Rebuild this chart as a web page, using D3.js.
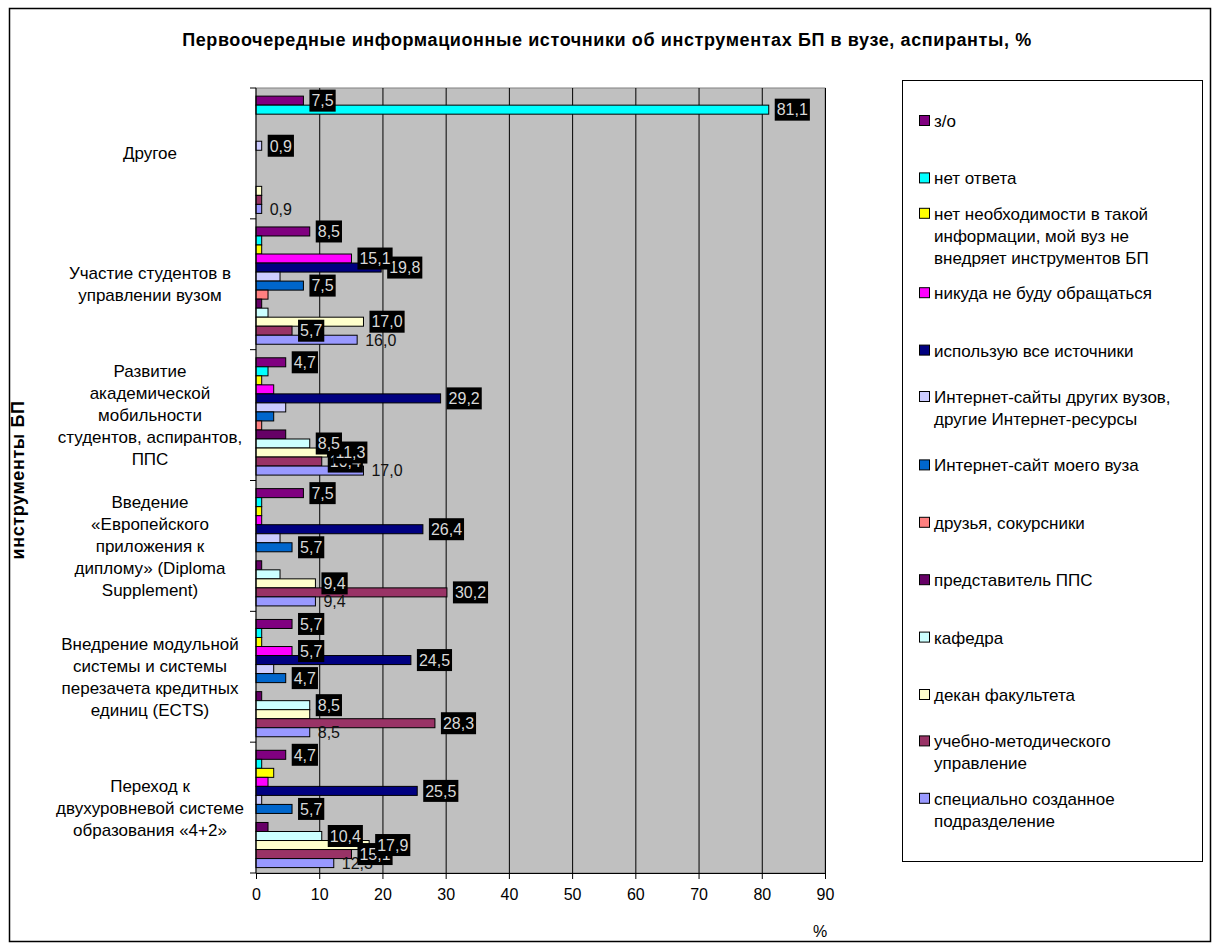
<!DOCTYPE html>
<html><head><meta charset="utf-8">
<script src="https://cdn.jsdelivr.net/npm/d3@7"></script>
<style>
body{margin:0;background:#fff}
svg{display:block}
text{font-family:"Liberation Sans",Arial,sans-serif}
</style>
</head><body>
<svg id="c" width="1219" height="948"></svg>
<script>
// ---------- DATA ----------
const title = "Первоочередные информационные источники об инструментах БП в вузе, аспиранты, %";
const yTitle = "инструменты БП";
const xTitle = "%";
const categories = [
  "Другое",
  "Участие студентов в\nуправлении вузом",
  "Развитие\nакадемической\nмобильности\nстудентов, аспирантов,\nППС",
  "Введение\n«Европейского\nприложения к\nдиплому» (Diploma\nSupplement)",
  "Внедрение модульной\nсистемы и системы\nперезачета кредитных\nединиц (ECTS)",
  "Переход к\nдвухуровневой системе\nобразования «4+2»"
];
const seriesNames = [
  "з/о",
  "нет ответа",
  "нет необходимости в такой\nинформации, мой вуз не\nвнедряет инструментов БП",
  "никуда не буду обращаться",
  "использую все источники",
  "Интернет-сайты других вузов,\nдругие Интернет-ресурсы",
  "Интернет-сайт моего вуза",
  "друзья, сокурсники",
  "представитель ППС",
  "кафедра",
  "декан факультета",
  "учебно-методического\nуправление",
  "специально созданное\nподразделение"
];
const seriesColors = ["#800080","#00FFFF","#FFFF00","#FF00FF","#000080","#CCCCFF","#0066CC","#FF8080","#660066","#CCFFFF","#FFFFCC","#993366","#9999FF"];
// values per series, in category order (top to bottom)
const zo            = [7.5, 8.5, 4.7, 7.5, 5.7, 4.7];
const noAnswer      = [81.1, 0.9, 1.9, 0.9, 0.9, 0.9];
const noNeed        = [0, 0.9, 0.9, 0.9, 0.9, 2.8];
const nowhere       = [0, 15.1, 2.8, 0.9, 5.7, 1.9];
const allSources    = [0, 19.8, 29.2, 26.4, 24.5, 25.5];
const otherSites    = [0.9, 3.8, 4.7, 3.8, 2.8, 0.9];
const mySite        = [0, 7.5, 2.8, 5.7, 4.7, 5.7];
const friends       = [0, 1.9, 0.9, 0, 0, 0];
const teacher       = [0, 0.9, 4.7, 0.9, 0.9, 1.9];
const department    = [0, 1.9, 8.5, 3.8, 8.5, 10.4];
const dean          = [0.9, 17.0, 11.3, 9.4, 8.5, 17.9];
const methodOffice  = [0.9, 5.7, 10.4, 30.2, 28.3, 15.1];
const specialUnit   = [0.9, 16.0, 17.0, 9.4, 8.5, 12.3];
const seriesValues = [zo, noAnswer, noNeed, nowhere, allSources, otherSites, mySite, friends, teacher, department, dean, methodOffice, specialUnit];
// which categories carry a value label, per series
const labelled = [[0,1,2,3,4,5],[0],[],[1,4],[1,2,3,4,5],[0],[1,3,4,5],[],[],[2,4,5],[1,2,3,5],[1,2,3,4,5],[0,1,2,3,4,5]];
const plainLabelSeries = [12]; // labels without black box
const xTicks = [0,10,20,30,40,50,60,70,80,90];

// ---------- DRAW ----------
const svg = d3.select("#c");
const FONT = 16, FONT_TXT = 17;
const fmt = v => d3.format(".1f")(v).replace(".", ",");

// outer border
svg.append("rect").attr("x",9.5).attr("y",8.5).attr("width",1201).attr("height",933)
  .attr("fill","#fff").attr("stroke","#000").attr("stroke-width",1.5);

svg.append("text").attr("x",607).attr("y",46).attr("text-anchor","middle")
  .attr("font-weight","bold").attr("font-size",18).attr("letter-spacing","0.6px").text(title);

const x = d3.scaleLinear().domain([0,90]).range([256,825]);
const y = d3.scaleBand().domain(d3.range(categories.length)).range([88,873]).padding(0);
const ys = d3.scaleBand().domain(d3.range(seriesNames.length)).range([0,y.bandwidth()])
  .paddingInner(0).paddingOuter(0.75).align(0.6);

// plot background
svg.append("rect").attr("x",x(0)).attr("y",88).attr("width",x(90)-x(0)).attr("height",873-88)
  .attr("fill","#C0C0C0").attr("stroke","#808080");

// gridlines
svg.append("g").selectAll("line").data(xTicks.slice(1)).join("line")
  .attr("x1",d=>x(d)+0.5).attr("x2",d=>x(d)+0.5).attr("y1",88).attr("y2",873)
  .attr("stroke","#000").attr("stroke-width",1);

// bars
const flat = [];
seriesValues.forEach((arr,s)=>arr.forEach((v,c)=>flat.push({s,c,v})));
svg.append("g").selectAll("rect").data(flat.filter(d=>d.v>0)).join("rect")
  .attr("x",x(0)).attr("y",d=>y(d.c)+ys(d.s))
  .attr("width",d=>x(d.v)-x(0)).attr("height",ys.bandwidth())
  .attr("fill",d=>seriesColors[d.s]).attr("stroke","#000").attr("stroke-width",1);

// axes
const xAxis = d3.axisBottom(x).tickValues(xTicks).tickSize(6).tickPadding(10).tickFormat(d3.format("d"));
const gx = svg.append("g").attr("transform","translate(0,873)").call(xAxis);
gx.select(".domain").attr("stroke","#000");
gx.selectAll("text").attr("font-size",FONT).attr("font-family","Liberation Sans, Arial, sans-serif").attr("fill","#000");

// left axis line + ticks at category boundaries
svg.append("line").attr("x1",x(0)).attr("x2",x(0)).attr("y1",88).attr("y2",873).attr("stroke","#000");
svg.append("g").selectAll("line").data(d3.range(categories.length+1)).join("line")
  .attr("x1",x(0)-6).attr("x2",x(0))
  .attr("y1",i=>88+i*y.step()).attr("y2",i=>88+i*y.step()).attr("stroke","#000");

// category labels
const LH = 22;
categories.forEach((cat,i)=>{
  const lines = cat.split("\n");
  const cy = y(i)+y.bandwidth()/2;
  const t = svg.append("text").attr("text-anchor","middle").attr("font-size",FONT_TXT);
  lines.forEach((ln,k)=>{
    t.append("tspan").attr("x",150).attr("y",cy+(k-(lines.length-1)/2)*LH).attr("dy","0.35em").text(ln);
  });
});

// axis titles
svg.append("text").attr("transform","translate(24,480) rotate(-90)").attr("text-anchor","middle")
  .attr("font-weight","bold").attr("font-size",18).attr("letter-spacing","0.6px").text(yTitle);
svg.append("text").attr("x",820).attr("y",937).attr("text-anchor","middle").attr("font-size",FONT).text(xTitle);

// data labels (drawn from last series to first so earlier sit on top)
const lg = svg.append("g");
for(let s=seriesNames.length-1;s>=0;s--){
  labelled[s].forEach(c=>{
    const v = seriesValues[s][c];
    const bx = x(v);
    const cy = y(c)+ys(s)+ys.bandwidth()/2;
    const plain = plainLabelSeries.includes(s);
    const g = lg.append("g");
    const bg = g.append("rect").attr("fill","#000");
    const t = g.append("text").attr("x",bx+8).attr("y",cy).attr("dy","0.36em")
      .attr("font-size",FONT).attr("fill",plain?"#111":"#D8D8D8").text(fmt(v));
    if(plain){ bg.remove(); }
    else {
      const w = t.node().getComputedTextLength();
      bg.attr("x",bx+6).attr("y",cy-11).attr("width",w+4).attr("height",22);
    }
  });
}

// legend
svg.append("rect").attr("x",902.5).attr("y",80.5).attr("width",300).attr("height",781)
  .attr("fill","#fff").attr("stroke","#000");
const leg0 = 121, legStep = 57.4;
seriesNames.forEach((name,i)=>{
  const lines = name.split("\n");
  const cy = leg0 + i*legStep;
  const firstY = cy - (lines.length-1)/2*LH;
  svg.append("rect").attr("x",919.5).attr("y",firstY-5.5).attr("width",10).attr("height",10)
    .attr("fill",seriesColors[i]).attr("stroke","#000");
  const t = svg.append("text").attr("font-size",FONT_TXT);
  lines.forEach((ln,k)=>{
    t.append("tspan").attr("x",934).attr("y",firstY+k*LH).attr("dy","0.35em").text(ln);
  });
});
</script>
</body></html>
